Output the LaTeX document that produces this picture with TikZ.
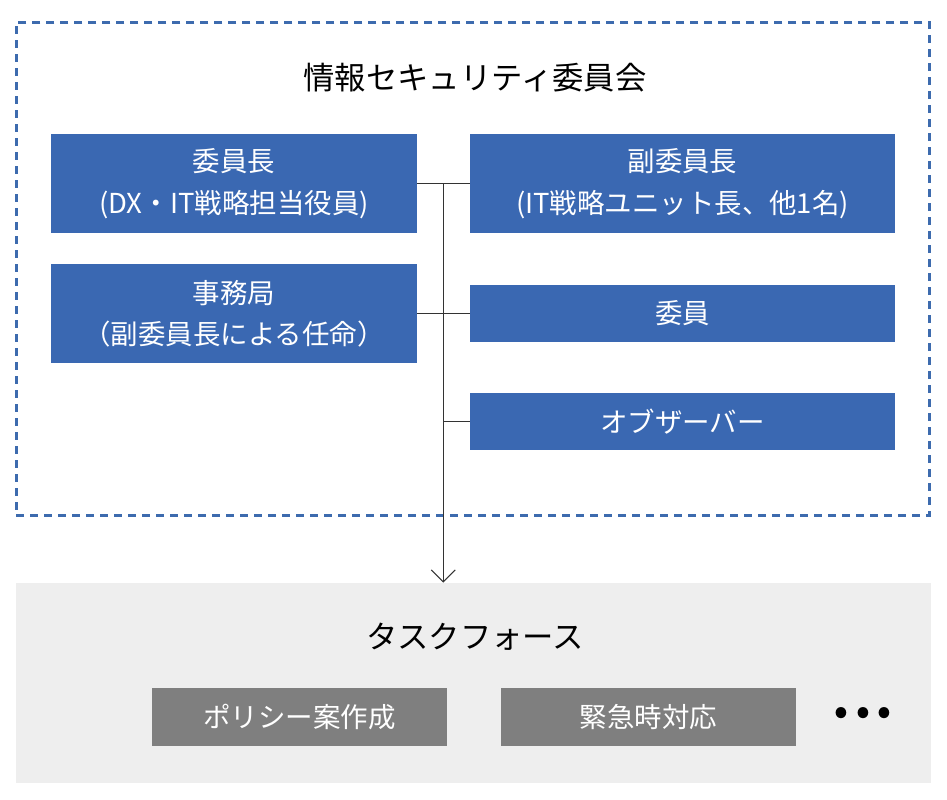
\documentclass[tikz,border=0pt]{standalone}
\usepackage{fontspec}
\setmainfont{Noto Sans CJK JP}
\usepackage{xcolor}
\usetikzlibrary{arrows.meta, calc, positioning}

\definecolor{boxblue}{HTML}{3A68B2}
\definecolor{frameblue}{HTML}{3D6BAE}
\definecolor{tfgray}{HTML}{EEEEEE}
\definecolor{taskgray}{HTML}{7F7F7F}
\definecolor{linegray}{HTML}{333333}

\tikzset{
  rolebox/.style={fill=boxblue, text=white, align=center, inner sep=0pt,
    font=\fontsize{20.6}{31}\selectfont},
  taskbox/.style={fill=taskgray, text=white, inner sep=0pt,
    minimum width=221pt, minimum height=43.5pt, font=\fontsize{20.6}{24}\selectfont},
  link/.style={linegray, line width=1.1pt}
}

\begin{document}
\begin{tikzpicture}[x=0.75pt, y=-0.75pt]
  \useasboundingbox (0,0) rectangle (947,800);

  % Committee frame
  \node[draw=frameblue, dashed, dash pattern=on 6pt off 4.5pt, line width=2pt,
        minimum width=685pt, minimum height=370pt, inner sep=0pt]
    (committee) at (473,269) {};
  \node[font=\fontsize{23.5}{28}\selectfont] (title) at (475,78) {情報セキュリティ委員会};

  % Members
  \node[rolebox, minimum width=274pt, minimum height=74pt] (chair) at (234,183.5)
    {委員長\\(DX・IT戦略担当役員)};
  \node[rolebox, minimum width=319pt, minimum height=74pt] (vice) at (682.5,183.5)
    {副委員長\\(IT戦略ユニット長、他1名)};
  \node[rolebox, minimum width=274pt, minimum height=74pt] (office) at (234,313.5)
    {事務局\\（副委員長による任命）};
  \node[rolebox, minimum width=319pt, minimum height=43pt] (member) at (682.5,313.5) {委員};
  \node[rolebox, minimum width=319pt, minimum height=43pt] (observer) at (682.5,421.5) {オブザーバー};

  % Task force
  \node[fill=tfgray, minimum width=686pt, minimum height=150pt, inner sep=0pt]
    (taskforce) at (473.5,683) {};
  \node[font=\fontsize{23.5}{28}\selectfont] (tftitle) at (475,637) {タスクフォース};
  \node[taskbox] (policy) at (299.5,717) {ポリシー案作成};
  \node[taskbox] (emergency) at (648.5,717) {緊急時対応};
  \node[font=\fontsize{26}{28}\selectfont\bfseries] (more) at (863,715)
    {•\hspace{6pt}•\hspace{6pt}•};

  % Connectors
  \coordinate (trunk) at ($(chair.east)!0.5!(vice.west)$);
  \draw[link] (chair.east) -- (vice.west);
  \draw[link] (office.east) -- (member.west);
  \draw[link] (observer.west) -- (trunk |- observer.west);
  \draw[link, -{Straight Barb[length=9pt, width=18pt, line width=0.8pt]}]
    (trunk) -- (trunk |- taskforce.north);
\end{tikzpicture}
\end{document}
